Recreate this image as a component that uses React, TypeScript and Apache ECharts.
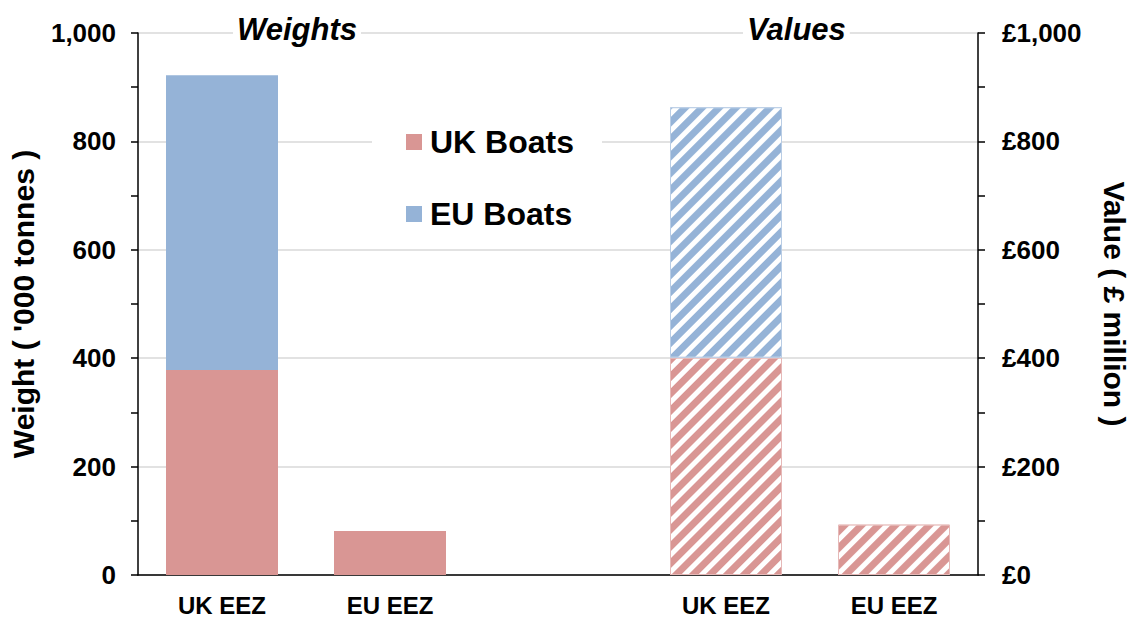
import React, { useEffect, useRef } from "react";
import * as echarts from "echarts";

const categories = ["UK EEZ", "EU EEZ", "", "UK EEZ", "EU EEZ"];
const weightUK = [378, 81, "-", "-", "-"];
const weightEU = [544, "-", "-", "-", "-"];
const valueUK = ["-", "-", "-", 401, 93];
const valueEU = ["-", "-", "-", 462, "-"];
const weightTicks = [0, 200, 400, 600, 800, 1000];
const legendNames = ["UK Boats", "EU Boats"];
const titles = ["Weights", "Values"];
const axisNames = ["Weight ( '000 tonnes )", "Value ( £ million )"];

const RED = "#D99694";
const BLUE = "#95B3D7";
const FONT = "Liberation Sans, Arial, sans-serif";

const hatch = {
  symbol: "rect",
  symbolSize: 1,
  color: "#ffffff",
  dashArrayX: [1, 0],
  dashArrayY: [5, 7],
  rotation: -Math.PI / 4,
};

export default function App() {
  const ref = useRef<HTMLDivElement>(null);
  useEffect(() => {
    if (!ref.current) return;
    const chart = echarts.init(ref.current, undefined, { renderer: "svg" });
    const fmt = (v: number) => v.toLocaleString("en-GB");
    const commonY = {
      type: "value",
      min: weightTicks[0],
      max: weightTicks[weightTicks.length - 1],
      interval: 200,
      nameLocation: "middle",
      nameTextStyle: { fontFamily: FONT, fontWeight: "bold", fontSize: 30, color: "#000" },
      axisLine: { show: true, lineStyle: { color: "#000", width: 1.5 } },
      axisTick: { show: true, length: 7, inside: false, lineStyle: { color: "#000", width: 1.5 } },
      minorTick: { show: true, splitNumber: 2, length: 7, lineStyle: { color: "#000", width: 1.5 } },
      axisLabel: { fontFamily: FONT, fontWeight: "bold", fontSize: 26, color: "#000" },
    };
    chart.setOption({
      animation: false,
      backgroundColor: "#fff",
      textStyle: { fontFamily: FONT },
      grid: { left: 138, right: 151, top: 33, bottom: 44, outerBoundsMode: "none", containLabel: false },
      graphic: [
        {
          type: "text",
          left: 233,
          top: 12,
          z: 100,
          style: {
            text: titles[0],
            font: `italic bold 31px ${FONT}`,
            fill: "#000",
            backgroundColor: "#fff",
            padding: [2, 4, 2, 4],
          },
        },
        {
          type: "text",
          left: 743,
          top: 12,
          z: 100,
          style: {
            text: titles[1],
            font: `italic bold 31px ${FONT}`,
            fill: "#000",
            backgroundColor: "#fff",
            padding: [2, 4, 2, 4],
          },
        },
      ],
      legend: {
        orient: "vertical",
        left: 372,
        top: 100,
        padding: [26, 28, 18, 34],
        itemGap: 40,
        itemWidth: 16,
        itemHeight: 16,
        icon: "rect",
        backgroundColor: "#fff",
        data: legendNames,
        textStyle: { fontFamily: FONT, fontWeight: "bold", fontSize: 32, color: "#000", padding: [0, 0, 0, 3] },
      },
      xAxis: {
        type: "category",
        data: categories,
        axisLine: { lineStyle: { color: "#000", width: 1.5 } },
        axisTick: { alignWithLabel: true, length: 7, lineStyle: { color: "#000", width: 1.5 } },
        axisLabel: {
          fontFamily: FONT,
          fontWeight: "bold",
          fontSize: 24,
          lineHeight: 22,
          color: "#000",
          margin: 19,
        },
      },
      yAxis: [
        {
          ...commonY,
          position: "left",
          name: axisNames[0],
          nameGap: 100,
          nameRotate: 90,
          axisLabel: { ...commonY.axisLabel, margin: 22, formatter: (v: number) => fmt(v) },
          splitLine: { show: true, lineStyle: { color: "#D9D9D9", width: 1.5 } },
        },
        {
          ...commonY,
          position: "right",
          name: axisNames[1],
          nameGap: 123,
          nameRotate: -90,
          nameTextStyle: { ...commonY.nameTextStyle, lineHeight: 26 },
          axisLabel: { ...commonY.axisLabel, margin: 24, formatter: (v: number) => "£" + fmt(v) },
          splitLine: { show: false },
        },
      ],
      series: [
        {
          name: legendNames[0],
          type: "bar",
          stack: "w",
          yAxisIndex: 0,
          barWidth: 112,
          barGap: "-100%",
          data: weightUK,
          itemStyle: { color: RED },
        },
        {
          name: legendNames[1],
          type: "bar",
          stack: "w",
          yAxisIndex: 0,
          barWidth: 112,
          barGap: "-100%",
          data: weightEU,
          itemStyle: { color: BLUE },
        },
        {
          name: legendNames[0],
          type: "bar",
          stack: "v",
          yAxisIndex: 1,
          barWidth: 112,
          barGap: "-100%",
          data: valueUK,
          itemStyle: { color: RED, borderColor: "#E6B9B8", borderWidth: 1, decal: hatch },
        },
        {
          name: legendNames[1],
          type: "bar",
          stack: "v",
          yAxisIndex: 1,
          barWidth: 112,
          barGap: "-100%",
          data: valueEU,
          itemStyle: { color: BLUE, borderColor: "#B9CDE5", borderWidth: 1, decal: hatch },
        },
      ],
    });
    return () => chart.dispose();
  }, []);
  return <div ref={ref} style={{ position: "fixed", left: 0, top: 0, width: 1129, height: 619 }} />;
}
